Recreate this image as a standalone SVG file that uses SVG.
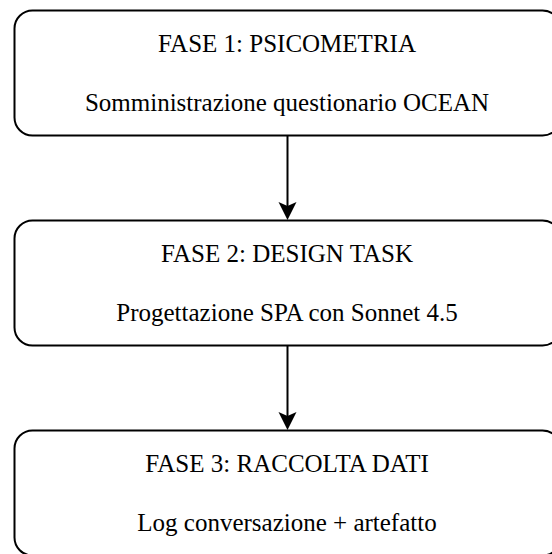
<svg xmlns="http://www.w3.org/2000/svg" width="552" height="554" viewBox="0 0 552 554">
  <style>
    .box { fill: #ffffff; stroke: #000000; stroke-width: 2; }
    .lbl { font-family: "Liberation Serif", "Times New Roman", serif; font-size: 25px; fill: #000000; text-anchor: middle; }
    .edge { stroke: #000000; stroke-width: 2; fill: none; }
    .head { fill: #000000; }
  </style>
  <rect x="0" y="0" width="552" height="554" fill="#ffffff"/>

  <g id="fase1">
    <rect class="box" x="14.5" y="10.5" width="546" height="125" rx="18" ry="18"/>
    <text class="lbl" x="287" y="52">FASE 1: PSICOMETRIA</text>
    <text class="lbl" x="287" y="111">Somministrazione questionario OCEAN</text>
  </g>

  <g id="fase2">
    <rect class="box" x="14.5" y="220.5" width="546" height="125" rx="18" ry="18"/>
    <text class="lbl" x="287" y="262">FASE 2: DESIGN TASK</text>
    <text class="lbl" x="287" y="321">Progettazione SPA con Sonnet 4.5</text>
  </g>

  <g id="fase3">
    <rect class="box" x="14.5" y="430.5" width="546" height="125" rx="18" ry="18"/>
    <text class="lbl" x="287" y="472">FASE 3: RACCOLTA DATI</text>
    <text class="lbl" x="287" y="531">Log conversazione + artefatto</text>
  </g>

  <g id="connectors">
    <line class="edge" x1="287.5" y1="135.5" x2="287.5" y2="206"/>
    <path class="head" d="M287.5,220 L278.5,202 L287.5,206 L296.5,202 Z"/>
    <line class="edge" x1="287.5" y1="345.5" x2="287.5" y2="416"/>
    <path class="head" d="M287.5,430 L278.5,412 L287.5,416 L296.5,412 Z"/>
  </g>
</svg>
